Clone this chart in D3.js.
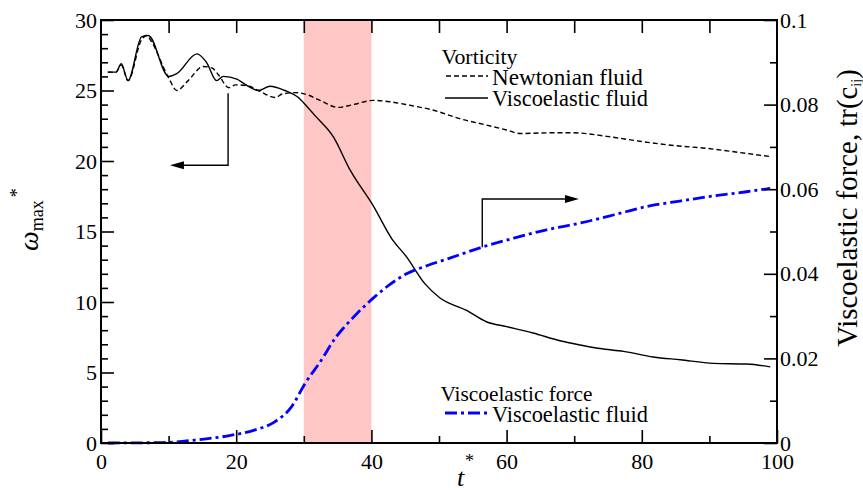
<!DOCTYPE html>
<html><head><meta charset="utf-8">
<script src="https://cdn.jsdelivr.net/npm/d3@7"></script>
<style>
html,body{margin:0;padding:0;background:#fff;}
svg{display:block;font-family:"Liberation Serif","Times New Roman",serif;}
</style></head>
<body><svg id="chart" width="863" height="492"></svg>
<script>
// ---- data ----
const newtonT = [1.0,2.2,3.0,4.0,6.0,6.8,7.3,10.0,11.2,12.9,15.1,16.4,17.4,18.9,19.9,21.9,23.3,25.8,26.8,28.8,30.5,32.4,35.1,37.3,40.3,42.75,45.7,49.2,53.1,57.0,60.0,62.0,66.4,69.9,74.8,79.7,84.7,89.6,94.5,99.2];
const newtonW = [26.3,26.3,26.8,25.7,28.6,28.9,28.6,25.9,25.0,25.7,26.7,26.6,26.1,25.2,25.4,25.3,25.0,24.5,24.75,24.85,24.7,24.3,23.8,24.0,24.3,24.2,23.95,23.6,23.0,22.55,22.2,21.95,22.0,22.0,21.75,21.4,21.1,20.9,20.6,20.3];
const viscoT = [1.0,2.2,3.0,4.0,6.0,7.0,10.0,11.2,14.2,15.6,17.1,18.1,20.1,21.1,23.3,25.0,27.2,29.2,30.4,31.7,34.4,36.8,40.3,43.0,45.2,47.9,50.1,54.1,57.0,60.0,63.9,67.9,70.9,73.8,77.3,81.7,85.7,90.6,95.5,99.0];
const viscoW = [26.3,26.3,26.9,25.7,28.8,28.9,26.0,26.2,27.6,27.0,25.7,26.0,25.8,25.5,25.0,25.3,25.0,24.5,23.9,23.2,21.7,19.4,16.8,14.5,13.2,11.3,10.3,9.4,8.6,8.25,7.8,7.25,6.95,6.7,6.5,6.1,5.9,5.65,5.6,5.4];
const forceT = [1.0,9.0,13.9,18.8,22.8,25.7,28.2,30.2,32.6,34.6,36.1,37.8,40.3,42.75,45.2,48.2,51.6,56.55,61.0,65.9,70.9,75.8,80.7,85.65,90.6,95.5,99.0];
const forceV = [0.0,0.0001,0.0007,0.0017,0.0031,0.005,0.0086,0.0141,0.0196,0.0247,0.0276,0.0305,0.0343,0.0375,0.0400,0.0419,0.0437,0.0464,0.0484,0.0504,0.0520,0.0539,0.0559,0.0572,0.0584,0.0594,0.0602];
const bandT = [30, 40];
const xTicks = [0,20,40,60,80,100];
const yLeftTicks = [0,5,10,15,20,25,30];
const yRightTicks = [0,0.02,0.04,0.06,0.08,0.1];
const yRightLabels = ["0","0.02","0.04","0.06","0.08","0.1"];
// annotation arrows in data units
const leftArrowT = [18.8, 18.8, 10.2];
const leftArrowW = [24.8, 19.7, 19.7];
const rightArrowT = [56.4, 56.4, 70.7];
const rightArrowV = [0.0463, 0.0577, 0.0577];

// ---- layout ----
const svg = d3.select("#chart");
const L = 101, R = 777, T = 20, B = 443;
const x = d3.scaleLinear().domain([0,100]).range([L,R]);
const yL = d3.scaleLinear().domain([0,30]).range([B,T]);
const yR = d3.scaleLinear().domain([0,0.1]).range([B,T]);

// band
svg.append("rect").attr("x", x(bandT[0])).attr("y", T)
  .attr("width", x(bandT[1]) - x(bandT[0])).attr("height", B - T)
  .attr("fill", "#ffc6c6");

// lines
const lineL = d3.line().x(d=>x(d[0])).y(d=>yL(d[1])).curve(d3.curveMonotoneX);
const lineR = d3.line().x(d=>x(d[0])).y(d=>yR(d[1])).curve(d3.curveMonotoneX);
svg.append("path").datum(newtonT.map((t,i)=>[t,newtonW[i]])).attr("d", lineL)
  .attr("fill","none").attr("stroke","#000").attr("stroke-width",1.4).attr("stroke-dasharray","5,3");
svg.append("path").datum(viscoT.map((t,i)=>[t,viscoW[i]])).attr("d", lineL)
  .attr("fill","none").attr("stroke","#000").attr("stroke-width",1.4);
svg.append("path").datum(forceT.map((t,i)=>[t,forceV[i]])).attr("d", lineR)
  .attr("fill","none").attr("stroke","#0000ff").attr("stroke-width",2.8).attr("stroke-dasharray","12,4,3,4");

// axes
const tickFont = "22px";
function styleAxis(g){
  g.select(".domain").remove();
  g.selectAll("line").attr("stroke","#000").attr("stroke-width",1.6);
  g.selectAll("text").attr("font-family","Liberation Serif, serif").attr("font-size",tickFont).attr("fill","#000");
}
// bottom major
svg.append("g").attr("transform",`translate(0,${B})`)
  .call(d3.axisBottom(x).tickValues(xTicks).tickSizeInner(-13).tickSizeOuter(0).tickPadding(10).tickFormat(d3.format("d")))
  .call(styleAxis);
// bottom minor
svg.append("g").attr("transform",`translate(0,${B})`)
  .call(d3.axisBottom(x).tickValues(d3.range(10,100,20)).tickSizeInner(-7).tickSizeOuter(0).tickFormat(""))
  .call(styleAxis);
// top
svg.append("g").attr("transform",`translate(0,${T})`)
  .call(d3.axisTop(x).tickValues(d3.range(10,100,10)).tickSizeInner(-13).tickSizeOuter(0).tickFormat(""))
  .call(styleAxis);
// left major
svg.append("g").attr("transform",`translate(${L},0)`)
  .call(d3.axisLeft(yL).tickValues(yLeftTicks).tickSizeInner(-13).tickSizeOuter(0).tickPadding(4).tickFormat(d3.format("d")))
  .call(styleAxis);
// left minor
svg.append("g").attr("transform",`translate(${L},0)`)
  .call(d3.axisLeft(yL).tickValues(d3.range(1,30,1).filter(v=>v%5!==0)).tickSizeInner(-7).tickSizeOuter(0).tickFormat(""))
  .call(styleAxis);
// right major
svg.append("g").attr("transform",`translate(${R},0)`)
  .call(d3.axisRight(yR).tickValues(yRightTicks).tickSizeInner(-13).tickSizeOuter(0).tickPadding(3).tickFormat((d,i)=>yRightLabels[i]))
  .call(styleAxis);
// right minor
svg.append("g").attr("transform",`translate(${R},0)`)
  .call(d3.axisRight(yR).tickValues([0.01,0.03,0.05,0.07,0.09]).tickSizeInner(-7).tickSizeOuter(0).tickFormat(""))
  .call(styleAxis);
// frame
svg.append("rect").attr("x",L).attr("y",T).attr("width",R-L).attr("height",B-T)
  .attr("fill","none").attr("stroke","#000").attr("stroke-width",2);

// arrows
const arrowLine = d3.line();
const la = leftArrowT.map((t,i)=>[x(t), yL(leftArrowW[i])]);
const ra = rightArrowT.map((t,i)=>[x(t), yR(rightArrowV[i])]);
function drawArrow(pts){
  const n = pts.length, tip = pts[n-1], prev = pts[n-2];
  const dir = Math.sign(tip[0]-prev[0]);
  const base = [tip[0]-dir*14, tip[1]];
  svg.append("path").attr("d", arrowLine(pts.slice(0,n-1).concat([base])))
    .attr("fill","none").attr("stroke","#000").attr("stroke-width",1.4);
  svg.append("path").attr("d", `M${tip[0]},${tip[1]}L${base[0]},${tip[1]-4}L${base[0]},${tip[1]+4}Z`).attr("fill","#000");
}
drawArrow(la); drawArrow(ra);

// text fitting helper
function fit(sel, target){
  const w = sel.node().getComputedTextLength();
  const fs = parseFloat(sel.attr("font-size"));
  sel.attr("font-size", (fs*target/w).toFixed(2)+"px");
  return sel;
}
// legend 1
fit(svg.append("text").attr("x",441.5).attr("y",64).attr("font-size",18).text("Vorticity"), 76);
svg.append("line").attr("x1",446).attr("x2",488).attr("y1",76).attr("y2",76)
  .attr("stroke","#000").attr("stroke-width",1.4).attr("stroke-dasharray","5,3");
fit(svg.append("text").attr("x",492).attr("y",85).attr("font-size",18).text("Newtonian fluid"), 151);
svg.append("line").attr("x1",445).attr("x2",488).attr("y1",98).attr("y2",98)
  .attr("stroke","#000").attr("stroke-width",1.4);
fit(svg.append("text").attr("x",492).attr("y",106).attr("font-size",18).text("Viscoelastic fluid"), 156);
// legend 2
fit(svg.append("text").attr("x",440.5).attr("y",401).attr("font-size",18).text("Viscoelastic force"), 152);
svg.append("line").attr("x1",445).attr("x2",488).attr("y1",413).attr("y2",413)
  .attr("stroke","#0000ff").attr("stroke-width",2.8).attr("stroke-dasharray","12,4,3,4");
fit(svg.append("text").attr("x",492).attr("y",422).attr("font-size",18).text("Viscoelastic fluid"), 156);

// x title
svg.append("text").attr("x",457).attr("y",486).attr("font-size",26).attr("font-style","italic").text("t");
svg.append("text").attr("x",465).attr("y",467).attr("font-size",18).text("*");

// left title
const lt = svg.append("text").attr("transform","translate(38,251) rotate(-90)").attr("font-size",28);
lt.append("tspan").attr("font-style","italic").text("ω");
lt.append("tspan").attr("font-size",18).attr("dy",5).text("max");
lt.append("tspan").attr("font-size",18).attr("dy",-20).attr("dx",3).text("*");

// right title
const rt = svg.append("text").attr("transform","translate(857,208) rotate(-90)").attr("text-anchor","middle").attr("font-size",22);
rt.append("tspan").text("Viscoelastic force, tr(c");
rt.append("tspan").attr("font-size",14).attr("dy",4).text("ij");
rt.append("tspan").attr("dy",-4).text(")");
const rw = rt.node().getComputedTextLength();
rt.attr("font-size", (22*280/rw).toFixed(2)+"px");
</script></body></html>
